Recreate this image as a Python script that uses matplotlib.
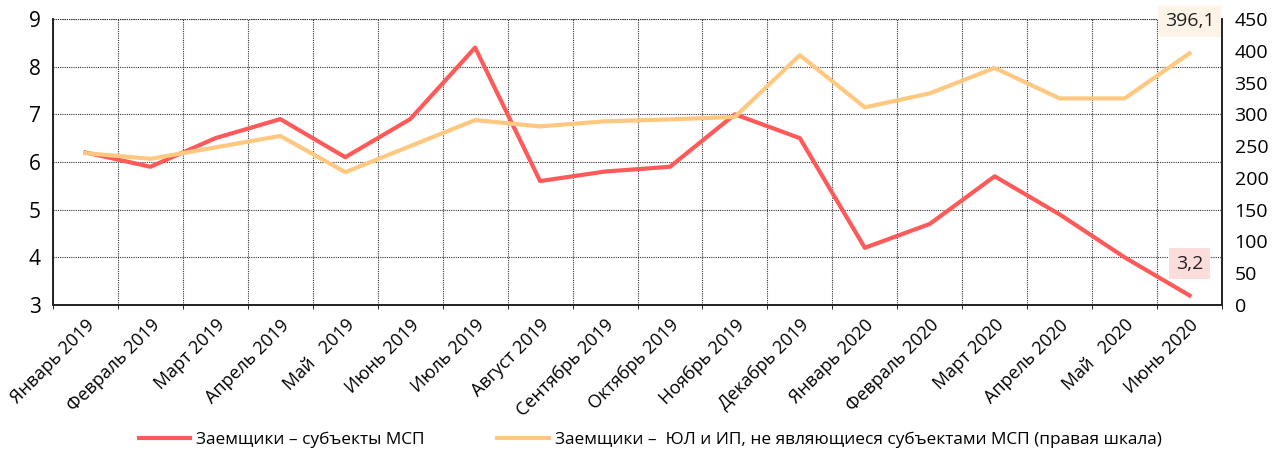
import numpy as np
import matplotlib.pyplot as plt
from matplotlib.ticker import MultipleLocator

plt.rcParams['font.family'] = ['Open Sans', 'DejaVu Sans']

months = ['Январь 2019', 'Февраль 2019', 'Март 2019', 'Апрель 2019', 'Май   2019',
          'Июнь 2019', 'Июль 2019', 'Август 2019', 'Сентябрь 2019', 'Октябрь 2019',
          'Ноябрь 2019', 'Декабрь 2019', 'Январь 2020', 'Февраль 2020', 'Март 2020',
          'Апрель 2020', 'Май   2020', 'Июнь 2020']
msp = [6.2, 5.9, 6.5, 6.9, 6.1, 6.9, 8.4, 5.6, 5.8, 5.9, 7.0, 6.5,
       4.2, 4.7, 5.7, 4.9, 4.0, 3.2]
non_msp = [239, 230, 248, 266, 209, 250, 291, 281, 289, 292, 296, 393,
           311, 333, 373, 325, 325, 396.1]

red = '#FF5A5A'
orange = '#FFC880'

fig = plt.figure(figsize=(12.72, 4.57), dpi=100)
ax = fig.add_axes([53/1272, 1-305/457, 1169/1272, 286/457])
ax2 = ax.twinx()

x = np.arange(len(months))
l1, = ax.plot(x, msp, color=red, lw=3, zorder=3)
l2, = ax2.plot(x, non_msp, color=orange, lw=3, zorder=2)

ax.set_xlim(-0.5, len(months) - 0.5)
ax.set_ylim(3, 9)
ax2.set_ylim(0, 450)
ax.yaxis.set_major_locator(MultipleLocator(1))
ax2.yaxis.set_major_locator(MultipleLocator(50))

ax.set_xticks(x)
ax.set_xticklabels(months, rotation=45, ha='right', rotation_mode='anchor', fontsize=13)
ax.set_xticks(np.arange(-0.5, len(months), 1), minor=True)
ax.tick_params(axis='x', which='major', length=0, pad=8)
ax.tick_params(axis='x', which='minor', length=3, direction='out')
ax.tick_params(axis='y', length=0, labelsize=15, pad=9)
ax2.tick_params(axis='y', length=0, labelsize=14, pad=9)

ax.grid(True, which='minor', axis='x', color='#333333', ls=(0, (1, 1)), lw=0.8)
ax.grid(True, which='major', axis='y', color='#333333', ls=(0, (1, 1)), lw=0.8)
ax.set_axisbelow(True)

for a in (ax, ax2):
    a.spines['top'].set_visible(False)
    for s in ('left', 'right', 'bottom'):
        a.spines[s].set_color('#222222')
        a.spines[s].set_linewidth(1.2)

# top dotted border
ax.axhline(9, color='#333333', ls=(0, (1, 1)), lw=0.8)

ax2.annotate('396,1', xy=(x[-1], non_msp[-1]), xytext=(0, 23), textcoords='offset points',
             ha='center', va='center', fontsize=14, color='#222222',
             bbox=dict(boxstyle='square,pad=0.35', fc='#FDF3E6', ec='none'))
ax.annotate('3,2', xy=(x[-1], msp[-1]), xytext=(0, 23), textcoords='offset points',
            ha='center', va='center', fontsize=14, color='#222222',
            bbox=dict(boxstyle='square,pad=0.35', fc='#FDDCDC', ec='none'))

fig.legend([l1, l2], ['Заемщики – субъекты МСП',
                      'Заемщики –  ЮЛ и ИП, не являющиеся субъектами МСП (правая шкала)'],
           loc='center left', bbox_to_anchor=(123/1272, 1-440/457), ncol=2, frameon=False,
           fontsize=12.4, handlelength=3, handletextpad=0.35, columnspacing=4.2)

fig.savefig('out.png', dpi=100)
